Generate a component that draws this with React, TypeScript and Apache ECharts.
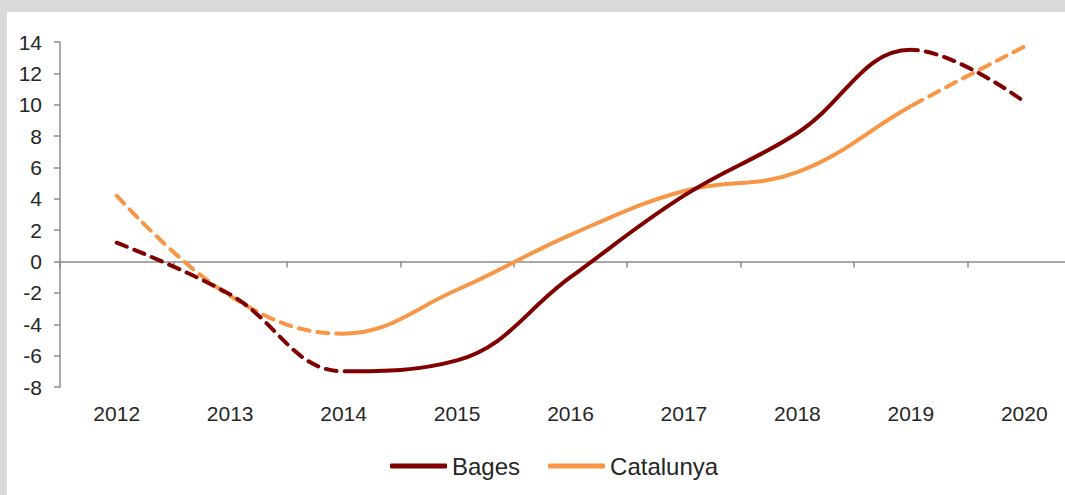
import React, { useEffect, useRef } from "react";
import * as echarts from "echarts";

const years = ["2012", "2013", "2014", "2015", "2016", "2017", "2018", "2019", "2020"];
const bages = [1.2, -2.1, -7.0, -6.3, -1.0, 4.2, 8.2, 13.5, 10.2];
const catalunya = [4.2, -2.2, -4.6, -1.8, 1.7, 4.5, 5.7, 9.9, 13.7];
const yTicks = { min: -8, max: 14, interval: 2 };
// index range (category positions) drawn solid; outside it the lines are dashed
const solidFrom = 2;
const solidTo = 7;

const BAGES_COLOR = "#800000";
const CAT_COLOR = "#F79646";

export default function App() {
  const ref = useRef<HTMLDivElement>(null);
  useEffect(() => {
    if (!ref.current) return;
    const chart = echarts.init(ref.current, undefined, { renderer: "svg" });
    const font = "Liberation Sans, Arial, sans-serif";
    const textColor = "#262626";
    const axisColor = "#8c8c8c";
    const smooth = 0.4;
    const lw = 4;
    const mk = (name: string, data: number[], color: string, dashed: boolean, z: number) => ({
      name,
      type: "line",
      data,
      xAxisIndex: 0,
      smooth,
      showSymbol: false,
      symbol: "none",
      z,
      lineStyle: {
        width: lw,
        type: dashed ? [11, 8] : "solid",
        cap: "round",
      },
      itemStyle: { color },
    });
    const vm = (seriesIndex: number, color: string, solid: boolean) => ({
      type: "piecewise",
      show: false,
      dimension: 0,
      seriesIndex,
      pieces: [{ gte: solidFrom, lte: solidTo, color: solid ? color : "rgba(255,255,255,0)" }],
      outOfRange: { color: solid ? "rgba(255,255,255,0)" : color },
    });
    chart.setOption({
      animation: false,
      backgroundColor: "#ffffff",
      textStyle: { fontFamily: font },
      grid: { left: 53, top: 30, right: -16, bottom: 108, containLabel: false, outerBoundsMode: "none" },
      legend: {
        data: [
          { name: "Bages", icon: "roundRect", itemStyle: { color: BAGES_COLOR } },
          { name: "Catalunya", icon: "roundRect", itemStyle: { color: CAT_COLOR } },
        ],
        left: 383,
        top: 442,
        padding: 0,
        itemWidth: 57,
        itemHeight: 5,
        itemGap: 28,
        textStyle: { fontSize: 24, color: textColor, fontFamily: font },
      },
      visualMap: [
        vm(0, BAGES_COLOR, true),
        vm(1, CAT_COLOR, true),
        vm(2, BAGES_COLOR, false),
        vm(3, CAT_COLOR, false),
      ],
      xAxis: [
        {
          type: "category",
          data: years,
          position: "bottom",
          boundaryGap: true,
          axisLine: { show: false, onZero: false },
          axisTick: { show: false },
          axisLabel: { fontSize: 21, color: textColor, margin: 16, fontFamily: font },
        },
        {
          type: "category",
          data: years,
          position: "top",
          boundaryGap: true,
          axisLine: { show: true, onZero: true, lineStyle: { color: axisColor, width: 1.5 } },
          axisTick: { show: true, inside: true, length: 6, lineStyle: { color: axisColor, width: 1.5 } },
          axisLabel: { show: false },
        },
      ],
      yAxis: {
        type: "value",
        min: yTicks.min,
        max: yTicks.max,
        interval: yTicks.interval,
        splitLine: { show: false },
        axisLine: { show: true, lineStyle: { color: axisColor, width: 1.5 } },
        axisTick: { show: true, length: 6, lineStyle: { color: axisColor, width: 1.5 } },
        axisLabel: { fontSize: 21, color: textColor, margin: 18, fontFamily: font },
      },
      series: [
        mk("Bages", bages, BAGES_COLOR, false, 3),
        mk("Catalunya", catalunya, CAT_COLOR, false, 2),
        mk("Bages-dashed", bages, BAGES_COLOR, true, 3),
        mk("Catalunya-dashed", catalunya, CAT_COLOR, true, 2),
      ],
    });
    return () => chart.dispose();
  }, []);
  return (
    <div style={{ position: "fixed", left: 0, top: 0, width: 1065, height: 495, background: "#d9d9d9", overflow: "hidden" }}>
      <div ref={ref} style={{ position: "absolute", left: 7, top: 12, width: 1058, height: 483 }} />
    </div>
  );
}
